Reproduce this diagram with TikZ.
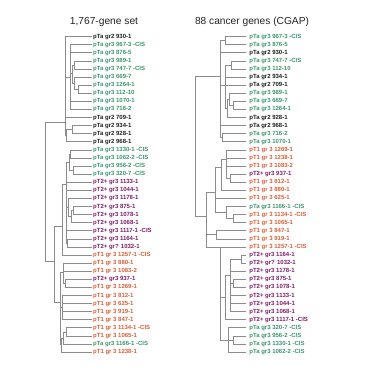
\documentclass[tikz,border=0pt]{standalone}
\usepackage{fontspec}
\setmainfont{Liberation Sans}
\definecolor{blk}{RGB}{30,30,30}
\definecolor{grn}{RGB}{60,150,110}
\definecolor{pur}{RGB}{125,30,105}
\definecolor{org}{RGB}{215,95,55}
\definecolor{brgray}{RGB}{140,140,140}
\definecolor{titlec}{RGB}{35,35,35}
\begin{document}
\begin{tikzpicture}[x=1pt,y=-8.09pt,
  br/.style={draw=brgray,line width=0.9pt,line cap=rect},
  lbl/.style={anchor=west,inner xsep=1.3pt,inner ysep=0pt,font=\fontsize{6}{7}\selectfont\bfseries},
  rlbl/.style={lbl,inner xsep=3.2pt},
  ttl/.style={inner sep=0pt,text=titlec,font=\fontsize{10.2}{12}\selectfont}]
\fill[white] (0,-3.5365) rectangle (367,42.199);
\useasboundingbox (0,-3.5365) rectangle (367,42.199);
% titles
\node[ttl] (tl) at (104,-0.854) {1,767-gene set};
\node[ttl] (tr) at (252,-0.854) {88 cancer genes (CGAP)};
% left labels
\foreach \r/\c/\t in {
 1/blk/{pTa gr2 930-1}, 2/grn/{pTa gr3 967-3 -CIS}, 3/grn/{pTa gr3 876-5}, 4/grn/{pTa gr3 989-1},
 5/grn/{pTa gr3 747-7 -CIS}, 6/grn/{pTa gr3 669-7}, 7/grn/{pTa gr3 1264-1}, 8/grn/{pTa gr3 112-10},
 9/grn/{pTa gr3 1070-1}, 10/grn/{pTa gr3 716-2}, 11/blk/{pTa gr2 709-1}, 12/blk/{pTa gr2 934-1},
 13/blk/{pTa gr2 928-1}, 14/blk/{pTa gr2 968-1}, 15/grn/{pTa gr3 1330-1 -CIS}, 16/grn/{pTa gr3 1062-2 -CIS},
 17/grn/{pTa gr3 956-2 -CIS}, 18/grn/{pTa gr3 320-7 -CIS}, 19/pur/{pT2+ gr3 1133-1}, 20/pur/{pT2+ gr3 1044-1},
 21/pur/{pT2+ gr3 1178-1}, 22/pur/{pT2+ gr3 875-1}, 23/pur/{pT2+ gr3 1078-1}, 24/pur/{pT2+ gr3 1068-1},
 25/pur/{pT2+ gr3 1117-1 -CIS}, 26/pur/{pT2+ gr3 1164-1}, 27/pur/{pT2+ gr? 1032-1}, 28/org/{pT1 gr 3 1257-1 -CIS},
 29/org/{pT1 gr 3 880-1}, 30/org/{pT1 gr 3 1083-2}, 31/pur/{pT2+ gr3 937-1}, 32/org/{pT1 gr 3 1269-1},
 33/org/{pT1 gr 3 812-1}, 34/org/{pT1 gr 3 625-1}, 35/org/{pT1 gr 3 919-1}, 36/org/{pT1 gr 3 847-1},
 37/org/{pT1 gr 3 1134-1 -CIS}, 38/org/{pT1 gr 3 1065-1}, 39/grn/{pTa gr3 1166-1 -CIS}, 40/org/{pT1 gr 3 1238-1}}
 \node[lbl,text=\c] (L\r) at (91.7,\r) {\t};
% right labels
\foreach \r/\c/\t in {
 1/grn/{pTa gr3 967-3 -CIS}, 2/grn/{pTa gr3 876-5}, 3/blk/{pTa gr2 930-1}, 4/grn/{pTa gr3 747-7 -CIS},
 5/grn/{pTa gr3 112-10}, 6/blk/{pTa gr2 934-1}, 7/blk/{pTa gr2 709-1}, 8/grn/{pTa gr3 989-1},
 9/grn/{pTa gr3 669-7}, 10/grn/{pTa gr3 1264-1}, 11/blk/{pTa gr2 928-1}, 12/blk/{pTa gr2 968-1},
 13/grn/{pTa gr3 716-2}, 14/grn/{pTa gr3 1070-1}, 15/org/{pT1 gr 3 1269-1}, 16/org/{pT1 gr 3 1238-1},
 17/org/{pT1 gr 3 1083-2}, 18/pur/{pT2+ gr3 937-1}, 19/org/{pT1 gr 3 812-1}, 20/org/{pT1 gr 3 880-1},
 21/org/{pT1 gr 3 625-1}, 22/grn/{pTa gr3 1166-1 -CIS}, 23/org/{pT1 gr 3 1134-1 -CIS}, 24/org/{pT1 gr 3 1065-1},
 25/org/{pT1 gr 3 847-1}, 26/org/{pT1 gr 3 919-1}, 27/org/{pT1 gr 3 1257-1 -CIS}, 28/pur/{pT2+ gr3 1164-1},
 29/pur/{pT2+ gr? 1032-1}, 30/pur/{pT2+ gr3 1178-1}, 31/pur/{pT2+ gr3 875-1}, 32/pur/{pT2+ gr3 1078-1},
 33/pur/{pT2+ gr3 1133-1}, 34/pur/{pT2+ gr3 1044-1}, 35/pur/{pT2+ gr3 1068-1}, 36/pur/{pT2+ gr3 1117-1 -CIS},
 37/grn/{pTa gr3 320-7 -CIS}, 38/grn/{pTa gr3 956-2 -CIS}, 39/grn/{pTa gr3 1330-1 -CIS}, 40/grn/{pTa gr3 1062-2 -CIS}}
 \node[rlbl,text=\c] (R\r) at (246,\r) {\t};
% left leaf branches
\foreach \r/\x in {1/65,2/70,3/70,4/74,5/74,6/74,7/78,8/78,9/70,10/70,11/65,12/72,13/72,14/66,
 15/70,16/70,17/73,18/73,19/66,20/66,21/68,22/73,23/73,24/71,25/66,26/67,27/67,28/62,
 29/63,30/63,31/65,32/65,33/62.5,34/62.5,35/62.5,36/62.5,37/66,38/66,39/63.5,40/61.7}
 \draw[br] (\x,\r) -- (L\r.west);
% left internal clades: x / top / bottom / attach / parent x
\foreach \x/\a/\b/\ay/\px in {74/4/5/4.5/72, 78/7/8/7.5/74, 74/6/7.5/6.75/72, 72/4.5/6.75/5.6/70,
 70/2/10/6/65, 72/12/13/12.5/66, 66/12.5/14/13.25/65, 65/1/13.25/11.6/45,
 70/15/16/15.5/69, 73/17/18/17.5/69, 69/15.5/17.5/16.5/66, 73/22/23/22.5/71, 71/22.5/24/23.25/68,
 68/21/23.25/22.1/66, 67/26/27/26.5/66, 66/16.5/26.5/19.3/62, 62/19.3/28/24.5/54,
 65/31/32/31.5/63, 63/29/31.5/30.2/60, 62.5/33/36/34.5/60, 66/37/38/37.5/63.5,
 63.5/37.5/39/38.25/61.7, 61.7/38.25/40/39.1/60, 60/30.2/39.1/33.8/54, 54/24.5/33.8/28.8/45}
 {\draw[br] (\x,\a) -- (\x,\b); \draw[br] (\px,\ay) -- (\x,\ay);}
\draw[br] (45,11.6) -- (45,28.8);
% right leaf branches
\foreach \r/\x in {1/225,2/225,3/220,4/231.7,5/231.7,6/225.7,7/225.7,8/229,9/233,10/233,11/227.7,12/220,
 13/222,14/222,15/226.7,16/226.7,17/226.7,18/230,19/230,20/221.7,21/215,22/226.7,23/233,24/233,
 25/216.7,26/216.7,27/220,28/241.7,29/241.7,30/230,31/233,32/233,33/230,34/230,35/230,36/225,
 37/228.3,38/233,39/233,40/228.3}
 \draw[br] (\x,\r) -- (R\r.west);
% right internal clades
\foreach \x/\a/\b/\ay/\px in {225/1/2/1.5/220, 231.7/4/5/4.5/225.7, 233/9/10/9.5/229, 229/8/9.5/8.75/227.7,
 227.7/8.75/11/9.9/225.7, 225.7/4.5/9.9/7/220, 222/13/14/13.5/220, 220/1.5/13.5/5.9/195,
 230/18/19/18.5/226.7, 226.7/15/18.5/16.2/221.7, 221.7/16.2/20/17.1/215, 233/23/24/23.5/226.7,
 226.7/22/23.5/22.75/215, 215/17.1/22.75/20.3/206, 216.7/25/26/25.5/206,
 241.7/28/29/28.5/230, 233/31/32/31.5/230, 230/28.5/35/30.5/225, 225/30.5/36/33.25/220,
 233/38/39/38.5/228.3, 228.3/37/40/38.5/220, 220/27/38.5/27/206, 206/20.3/27/23.2/195}
 {\draw[br] (\x,\a) -- (\x,\b); \draw[br] (\px,\ay) -- (\x,\ay);}
\draw[br] (195,5.9) -- (195,23.2);
\end{tikzpicture}
\end{document}
